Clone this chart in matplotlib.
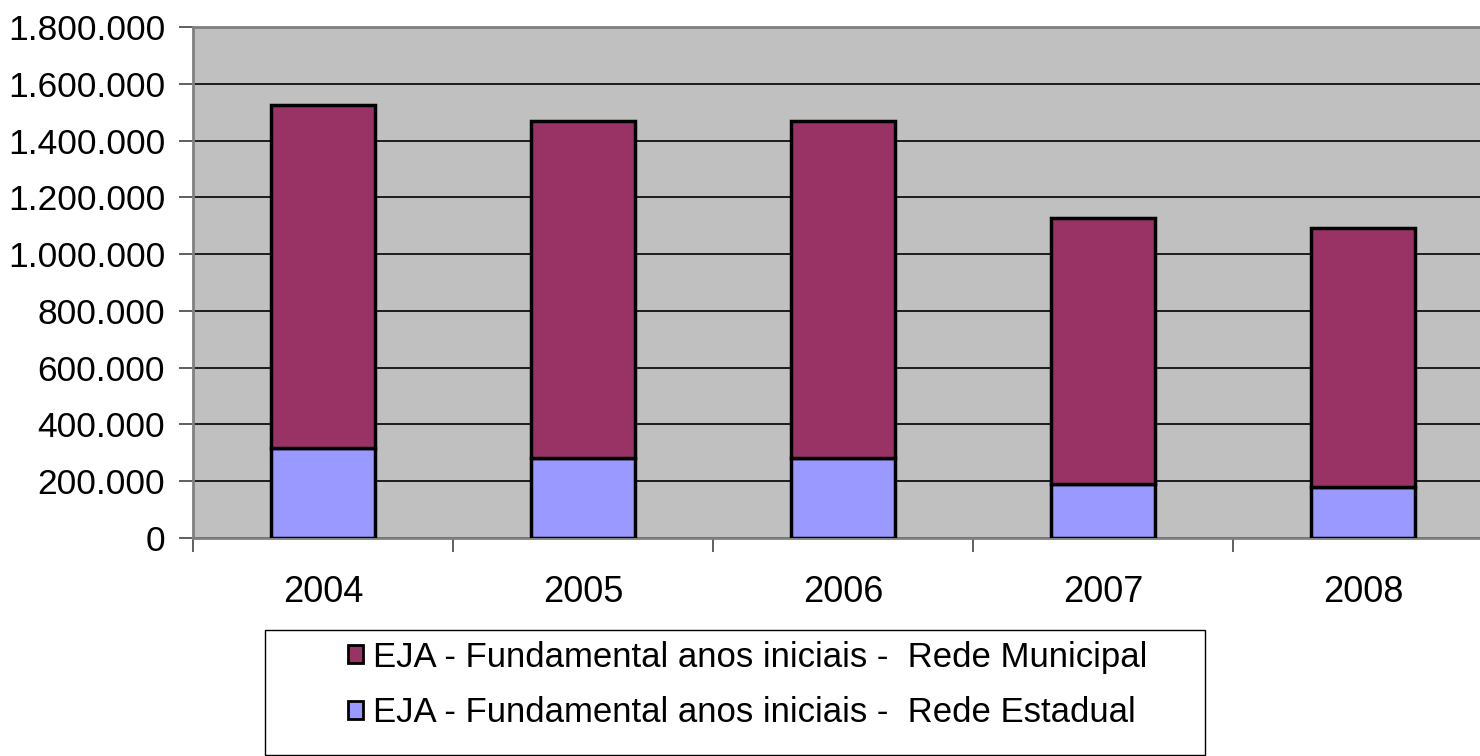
import matplotlib.pyplot as plt
from matplotlib.patches import Rectangle
from matplotlib.ticker import FuncFormatter, FixedLocator

plt.rcParams['font.family'] = ['Liberation Sans', 'DejaVu Sans']

years = ["2004", "2005", "2006", "2007", "2008"]
estadual = [317000, 282000, 282000, 190000, 181000]
municipal_total = [1525000, 1469000, 1469000, 1127000, 1092000]
municipal = [t - e for t, e in zip(municipal_total, estadual)]

label_mun = "EJA - Fundamental anos iniciais -  Rede Municipal"
label_est = "EJA - Fundamental anos iniciais -  Rede Estadual"


def thousands(v, pos):
    return f"{int(v):,}".replace(",", ".")


def main():
    fig = plt.figure(figsize=(14.8, 7.56), dpi=100)
    # axes right edge runs past the picture like in the original
    ax = fig.add_axes([193 / 1480, 1 - 538 / 756, 1300 / 1480, 511 / 756])
    ax.set_facecolor("#C0C0C0")

    x = list(range(len(years)))
    ax.bar(x, estadual, width=0.4, color="#9999FF", edgecolor="black",
           linewidth=2.5, label=label_est, zorder=3)
    ax.bar(x, municipal, width=0.4, bottom=estadual, color="#993366",
           edgecolor="black", linewidth=2.5, label=label_mun, zorder=3)

    ax.set_xlim(-0.5, len(years) - 0.5)
    ax.set_ylim(0, 1800000)
    ax.set_yticks(range(0, 1800001, 200000))
    ax.yaxis.set_major_formatter(FuncFormatter(thousands))
    ax.grid(axis="y", color="black", linewidth=1.2, zorder=1)

    ax.set_xticks(x)
    ax.set_xticklabels(years)
    ax.xaxis.set_minor_locator(FixedLocator([i - 0.5 for i in range(len(years) + 1)]))
    ax.tick_params(axis="x", which="major", length=0, pad=27, labelsize=26)
    ax.tick_params(axis="x", which="minor", length=10, width=1.2, color="#444444")
    ax.tick_params(axis="y", length=10, width=1.2, pad=10, labelsize=25.5,
                   color="#444444")

    for side in ["left", "bottom", "top", "right"]:
        ax.spines[side].set_color("#808080")
        ax.spines[side].set_linewidth(2)

    # legend frame drawn separately so the entries can sit centred in it
    fig.patches.append(Rectangle((265 / 1480, 1 - 755 / 756), 940 / 1480,
                                 125 / 756, transform=fig.transFigure,
                                 facecolor="white", edgecolor="black",
                                 linewidth=1))
    handles, labels = ax.get_legend_handles_labels()
    leg = fig.legend(handles[::-1], labels[::-1], loc="center",
                     bbox_to_anchor=(748 / 1480, 1 - 685 / 756),
                     fontsize=25, frameon=False,
                     handlelength=0.42, handleheight=0.42,
                     handletextpad=0.3, labelspacing=0.65, borderpad=0)
    for h in leg.legend_handles:
        h.set_linewidth(2)

    fig.savefig("out.png", dpi=100)


if __name__ == "__main__":
    main()
